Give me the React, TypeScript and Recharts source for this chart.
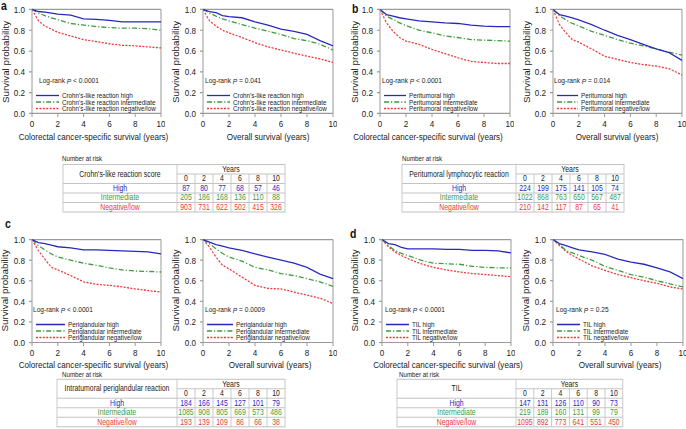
import React from "react";
import { LineChart, Line, XAxis, YAxis, ReferenceLine } from "recharts";

// the source figure is stretched vertically; draw unscaled and stretch the whole page
const S = 1.18;
const FONT = "'Liberation Sans', Arial, Helvetica, sans-serif";
const BLUE = "#2828c0";
const GREEN = "#3d9c3d";
const RED = "#ee3838";
const FRAME = "#9a9a9a";
const GRID = "#c4c4c4";
const INK = "#222";

const years = [0, 0.5, 1, 1.5, 2, 3, 4, 5, 6, 7, 8, 9, 10];
const xTicks = [0, 2, 4, 6, 8, 10];
const yTicks = [0, 0.2, 0.4, 0.6, 0.8, 1];
const riskYears = [0, 2, 4, 6, 8, 10];
const groupLabels = ["High", "Intermediate", "Negative/low"];
const legendSuffix = ["high", "intermediate", "negative/low"];

// a: Crohn's-like reaction
const aCssHigh = [1, 0.98, 0.975, 0.965, 0.955, 0.945, 0.91, 0.905, 0.895, 0.88, 0.88, 0.88, 0.88];
const aCssMid = [1, 0.965, 0.94, 0.92, 0.9, 0.865, 0.85, 0.835, 0.825, 0.82, 0.82, 0.815, 0.8];
const aCssLow = [1, 0.89, 0.84, 0.81, 0.78, 0.745, 0.71, 0.69, 0.67, 0.655, 0.65, 0.64, 0.63];
const aOsHigh = [1, 0.98, 0.97, 0.94, 0.93, 0.92, 0.88, 0.85, 0.81, 0.79, 0.76, 0.7, 0.65];
const aOsMid = [1, 0.965, 0.935, 0.91, 0.89, 0.855, 0.82, 0.79, 0.76, 0.72, 0.7, 0.665, 0.61];
const aOsLow = [1, 0.89, 0.84, 0.8, 0.775, 0.73, 0.68, 0.64, 0.61, 0.58, 0.55, 0.525, 0.49];

// b: peritumoral
const bCssHigh = [1, 0.95, 0.935, 0.92, 0.91, 0.89, 0.88, 0.87, 0.865, 0.85, 0.84, 0.835, 0.835];
const bCssMid = [1, 0.935, 0.905, 0.87, 0.845, 0.8, 0.775, 0.745, 0.73, 0.71, 0.705, 0.7, 0.695];
const bCssLow = [1, 0.87, 0.79, 0.73, 0.695, 0.665, 0.615, 0.575, 0.535, 0.5, 0.49, 0.48, 0.48];
const bOsHigh = [1, 0.95, 0.935, 0.92, 0.9, 0.855, 0.8, 0.75, 0.71, 0.665, 0.62, 0.585, 0.51];
const bOsMid = [1, 0.94, 0.9, 0.865, 0.84, 0.79, 0.75, 0.71, 0.675, 0.65, 0.62, 0.59, 0.56];
const bOsLow = [1, 0.855, 0.775, 0.71, 0.685, 0.62, 0.55, 0.52, 0.49, 0.47, 0.455, 0.43, 0.37];

// c: periglandular
const cCssHigh = [1, 0.97, 0.96, 0.945, 0.93, 0.92, 0.9, 0.9, 0.895, 0.89, 0.885, 0.88, 0.86];
const cCssMid = [1, 0.94, 0.9, 0.86, 0.83, 0.8, 0.77, 0.75, 0.725, 0.705, 0.695, 0.69, 0.685];
const cCssLow = [1, 0.89, 0.81, 0.73, 0.705, 0.65, 0.59, 0.565, 0.555, 0.54, 0.52, 0.505, 0.49];
const cOsHigh = [1, 0.975, 0.95, 0.935, 0.92, 0.895, 0.86, 0.83, 0.8, 0.77, 0.73, 0.665, 0.62];
const cOsMid = [1, 0.96, 0.91, 0.865, 0.83, 0.79, 0.73, 0.705, 0.67, 0.65, 0.62, 0.59, 0.545];
const cOsLow = [1, 0.925, 0.83, 0.75, 0.715, 0.635, 0.555, 0.525, 0.52, 0.49, 0.46, 0.43, 0.38];

// d: TIL
const dCssHigh = [1, 0.96, 0.95, 0.925, 0.91, 0.91, 0.91, 0.905, 0.905, 0.895, 0.895, 0.89, 0.87];
const dCssMid = [1, 0.94, 0.895, 0.865, 0.845, 0.8, 0.77, 0.765, 0.76, 0.74, 0.73, 0.725, 0.725];
const dCssLow = [1, 0.93, 0.88, 0.845, 0.815, 0.765, 0.73, 0.705, 0.685, 0.67, 0.66, 0.65, 0.64];
const dOsHigh = [1, 0.96, 0.94, 0.92, 0.9, 0.88, 0.855, 0.81, 0.78, 0.76, 0.725, 0.685, 0.62];
const dOsMid = [1, 0.95, 0.895, 0.87, 0.845, 0.8, 0.74, 0.7, 0.66, 0.635, 0.6, 0.57, 0.54];
const dOsLow = [1, 0.94, 0.885, 0.845, 0.81, 0.745, 0.7, 0.66, 0.63, 0.6, 0.575, 0.54, 0.52];

// numbers at risk
const aRiskHigh = [87, 80, 77, 68, 57, 46];
const aRiskMid = [205, 186, 168, 136, 110, 88];
const aRiskLow = [903, 731, 622, 502, 415, 326];
const bRiskHigh = [224, 199, 175, 141, 105, 74];
const bRiskMid = [1022, 868, 763, 650, 567, 487];
const bRiskLow = [210, 142, 117, 87, 65, 41];
const cRiskHigh = [184, 166, 145, 127, 101, 79];
const cRiskMid = [1085, 908, 805, 669, 573, 486];
const cRiskLow = [193, 139, 109, 86, 66, 38];
const dRiskHigh = [147, 131, 126, 110, 90, 73];
const dRiskMid = [219, 189, 160, 131, 99, 79];
const dRiskLow = [1095, 892, 773, 641, 551, 450];

const CSS_TITLE = "Colorectal cancer-specific survival (years)";
const OS_TITLE = "Overall survival (years)";

type ChartSpec = {
  L: number; R: number; T: number; B: number;
  series: number[][];
  prefix: string;
  p: string;
  xTitle: string; xTitleX: number; xTitleY: number;
  yTitleX: number;
  lrDx: number; legDx: number;
};

const charts: ChartSpec[] = [
  { L: 32, R: 161, T: 10, B: 114, series: [aCssHigh, aCssMid, aCssLow], prefix: "Crohn's-like reaction", p: "< 0.0001", xTitle: CSS_TITLE, xTitleX: 93.5, xTitleY: 137, yTitleX: 6, lrDx: 7, legDx: 30 },
  { L: 203, R: 333, T: 10, B: 114, series: [aOsHigh, aOsMid, aOsLow], prefix: "Crohn's-like reaction", p: "= 0.041", xTitle: OS_TITLE, xTitleX: 268, xTitleY: 137, yTitleX: 176, lrDx: 2, legDx: 30 },
  { L: 380, R: 510, T: 10, B: 114, series: [bCssHigh, bCssMid, bCssLow], prefix: "Peritumoral", p: "< 0.0001", xTitle: CSS_TITLE, xTitleX: 428, xTitleY: 137, yTitleX: 355, lrDx: 2, legDx: 29 },
  { L: 553, R: 682, T: 10, B: 114, series: [bOsHigh, bOsMid, bOsLow], prefix: "Peritumoral", p: "= 0.014", xTitle: OS_TITLE, xTitleX: 617, xTitleY: 137, yTitleX: 527, lrDx: 1, legDx: 28 },
  { L: 32, R: 161, T: 239, B: 342, series: [cCssHigh, cCssMid, cCssLow], prefix: "Periglandular", p: "< 0.0001", xTitle: CSS_TITLE, xTitleX: 93.5, xTitleY: 365, yTitleX: 5, lrDx: 1, legDx: 36 },
  { L: 203, R: 333, T: 239, B: 342, series: [cOsHigh, cOsMid, cOsLow], prefix: "Periglandular", p: "= 0.0009", xTitle: OS_TITLE, xTitleX: 270, xTitleY: 365, yTitleX: 176, lrDx: 2, legDx: 33 },
  { L: 382, R: 511, T: 239, B: 342, series: [dCssHigh, dCssMid, dCssLow], prefix: "TIL", p: "< 0.0001", xTitle: CSS_TITLE, xTitleX: 448, xTitleY: 365, yTitleX: 355, lrDx: 3, legDx: 30 },
  { L: 553, R: 683, T: 239, B: 342, series: [dOsHigh, dOsMid, dOsLow], prefix: "TIL", p: "= 0.25", xTitle: OS_TITLE, xTitleX: 620, xTitleY: 365, yTitleX: 526, lrDx: 3, legDx: 30 },
];

type TableSpec = {
  x: number; top: number; labelW: number; colW: number;
  title: string; narX: number; narY: number;
  rows: number[][];
};

const tables: TableSpec[] = [
  { x: 63, top: 164.5, labelW: 114, colW: 18, title: "Crohn's-like reaction score", narX: 62, narY: 158, rows: [aRiskHigh, aRiskMid, aRiskLow] },
  { x: 402, top: 164.5, labelW: 114, colW: 18, title: "Peritumoral lymphocytic reaction", narX: 402, narY: 158, rows: [bRiskHigh, bRiskMid, bRiskLow] },
  { x: 57, top: 379.3, labelW: 120, colW: 18, title: "Intratumoral periglandular reaction", narX: 62, narY: 374, rows: [cRiskHigh, cRiskMid, cRiskLow] },
  { x: 397, top: 379.3, labelW: 119, colW: 17.8, title: "TIL", narX: 399, narY: 374, rows: [dRiskHigh, dRiskMid, dRiskLow] },
];

const letters = [
  { t: "a", x: 1, y: 9.5 },
  { t: "b", x: 352, y: 13 },
  { t: "c", x: 5, y: 228 },
  { t: "d", x: 350, y: 238 },
];

const colors = [BLUE, GREEN, RED];
const dashes = [undefined, "5 2 1.2 2", "2 1.4"];
const keys = ["high", "mid", "low"];

const PAD_L = 34;
const PAD_T = 4;
const PAD_R = 4;
const AX_H = 16;

const KMChart = ({ spec }: { spec: ChartSpec }) => {
  const { L, R, T, B, series } = spec;
  const data = years.map((t, i) => ({ t, high: series[0][i], mid: series[1][i], low: series[2][i] }));
  const plotW = R - L;
  const plotH = (B - T) / S;
  return (
    <div style={{ position: "absolute", left: L - PAD_L, top: T / S - PAD_T }}>
      <LineChart
        width={plotW + PAD_L + PAD_R}
        height={plotH + PAD_T + AX_H}
        data={data}
        margin={{ top: PAD_T, right: PAD_R, bottom: 0, left: 0 }}
      >
        <XAxis
          dataKey="t"
          type="number"
          domain={[0, 10]}
          ticks={xTicks}
          interval={0}
          height={AX_H}
          tickSize={3}
          tickMargin={3}
          axisLine={{ stroke: FRAME }}
          tickLine={{ stroke: FRAME }}
          tick={{ fontSize: 8.1, fill: INK }}
        />
        <YAxis
          type="number"
          domain={[0, 1]}
          ticks={yTicks}
          interval={0}
          width={PAD_L}
          tickSize={3}
          tickMargin={4}
          tickFormatter={(v: number) => v.toFixed(1)}
          axisLine={{ stroke: FRAME }}
          tickLine={{ stroke: FRAME }}
          tick={{ fontSize: 8.1, fill: INK }}
        />
        <ReferenceLine y={1} stroke={FRAME} />
        <ReferenceLine x={10} stroke={FRAME} />
        {[2, 1, 0].map((i) => (
          <Line
            key={keys[i]}
            dataKey={keys[i]}
            type="linear"
            stroke={colors[i]}
            strokeWidth={1.1}
            strokeDasharray={dashes[i]}
            dot={false}
            isAnimationActive={false}
          />
        ))}
      </LineChart>
    </div>
  );
};

// number-at-risk table, drawn as svg so row heights stay exact
const RH = 9.5;

const RiskTable = ({ spec }: { spec: TableSpec }) => {
  const { x, top, labelW, colW } = spec;
  const x0 = x + labelW;
  const right = x0 + 6 * colW;
  const bottom = top + 5 * RH;
  const ry = (i: number) => (top + i * RH) / S;
  const rc = (i: number) => (top + (i + 0.5) * RH) / S;
  const cx = (j: number) => x0 + (j + 0.5) * colW;
  return (
    <g>
      <rect x={x} y={top / S} width={right - x} height={(bottom - top) / S} fill="none" stroke={GRID} strokeWidth={0.9} />
      <line x1={x0} x2={right} y1={ry(1)} y2={ry(1)} stroke={GRID} strokeWidth={0.9} />
      {[2, 3, 4].map((i) => (
        <line key={i} x1={x} x2={right} y1={ry(i)} y2={ry(i)} stroke={GRID} strokeWidth={0.9} />
      ))}
      <line x1={x0} x2={x0} y1={top / S} y2={bottom / S} stroke={GRID} strokeWidth={0.9} />
      {[1, 2, 3, 4, 5].map((j) => (
        <line key={j} x1={x0 + j * colW} x2={x0 + j * colW} y1={ry(1)} y2={bottom / S} stroke={GRID} strokeWidth={0.9} />
      ))}
      <text x={x + labelW / 2} y={ry(1)} textAnchor="middle" dominantBaseline="central" fontSize={6.9} fill={INK}>
        {spec.title}
      </text>
      <text x={(x0 + right) / 2} y={rc(0)} textAnchor="middle" dominantBaseline="central" fontSize={6.9} fill={INK}>
        Years
      </text>
      {riskYears.map((yr, j) => (
        <text key={j} x={cx(j)} y={rc(1)} textAnchor="middle" dominantBaseline="central" fontSize={6.9} fill={INK}>
          {yr}
        </text>
      ))}
      {spec.rows.map((r, i) => (
        <g key={i} fill={colors[i]} fontSize={6.9}>
          <text x={x + labelW / 2} y={rc(i + 2)} textAnchor="middle" dominantBaseline="central">
            {groupLabels[i]}
          </text>
          {r.map((v, j) => (
            <text key={j} x={cx(j)} y={rc(i + 2)} textAnchor="middle" dominantBaseline="central">
              {v}
            </text>
          ))}
        </g>
      ))}
      <text x={spec.narX} y={spec.narY / S} dominantBaseline="central" fontSize={6.2} fill={INK}>
        Number at risk
      </text>
    </g>
  );
};

const Overlay = () => (
  <svg
    width={686}
    height={429 / S}
    style={{ position: "absolute", left: 0, top: 0, pointerEvents: "none" }}
  >
    {letters.map((l) => (
      <text key={l.t} x={l.x} y={l.y / S} fontSize={10.5} fontWeight="bold" fill="#111">
        {l.t}
      </text>
    ))}
    {charts.map((c, k) => {
      const legY = [c.T + 85.5, c.T + 92, c.T + 98.5];
      return (
        <g key={k}>
          <text
            transform={`translate(${c.yTitleX}, ${(c.T + c.B) / 2 / S}) rotate(-90)`}
            textAnchor="middle"
            dominantBaseline="central"
            fontSize={8.3}
            fill={INK}
          >
            Survival probability
          </text>
          <text x={c.xTitleX} y={c.xTitleY / S} textAnchor="middle" dominantBaseline="central" fontSize={8.1} fill={INK}>
            {c.xTitle}
          </text>
          <text x={c.L + c.lrDx} y={(c.T + 70.5) / S} dominantBaseline="central" fontSize={6.6} fill={INK}>
            Log-rank <tspan fontStyle="italic">P</tspan> {c.p}
          </text>
          {legY.map((y, i) => (
            <g key={i}>
              <line
                x1={c.L + 4}
                x2={c.L + c.legDx - 3}
                y1={y / S}
                y2={y / S}
                stroke={colors[i]}
                strokeWidth={1.1}
                strokeDasharray={dashes[i]}
              />
              <text x={c.L + c.legDx} y={y / S} dominantBaseline="central" fontSize={6.3} fill={INK}>
                {c.prefix} {legendSuffix[i]}
              </text>
            </g>
          ))}
        </g>
      );
    })}
    {tables.map((t, k) => (
      <RiskTable key={k} spec={t} />
    ))}
  </svg>
);

export default function App() {
  return (
    <div
      style={{
        position: "absolute",
        left: 0,
        top: 0,
        width: 686,
        height: 429 / S,
        transform: `scaleY(${S})`,
        transformOrigin: "0 0",
        fontFamily: FONT,
        background: "#fff",
        overflow: "hidden",
      }}
    >
      {charts.map((c, k) => (
        <KMChart key={k} spec={c} />
      ))}
      <Overlay />
    </div>
  );
}
